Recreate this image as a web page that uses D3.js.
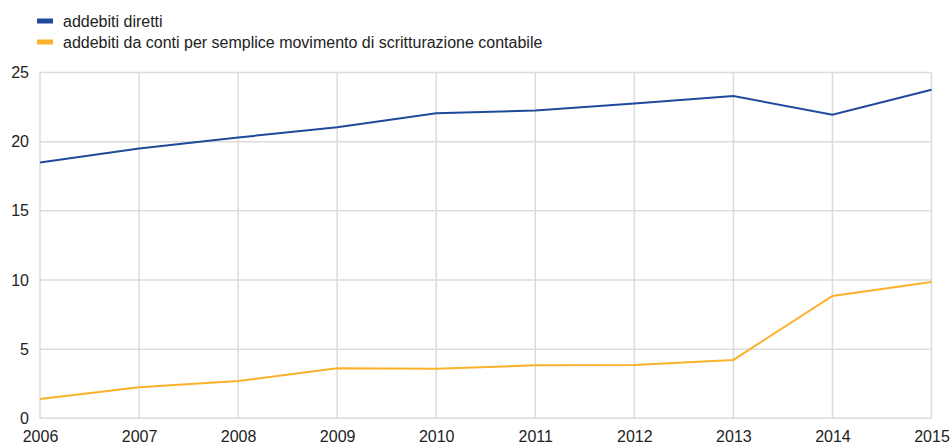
<!DOCTYPE html>
<html><head><meta charset="utf-8">
<script src="https://cdn.jsdelivr.net/npm/d3@7"></script>
<style>body{margin:0;background:#fff;font-family:"Liberation Sans",Arial,sans-serif;}</style>
</head><body><svg id="c" width="951" height="443"></svg>
<script>
const years = [2006,2007,2008,2009,2010,2011,2012,2013,2014,2015];
const direct = [18.5,19.5,20.3,21.05,22.05,22.25,22.75,23.3,21.95,23.75];
const bookEntry = [1.4,2.25,2.7,3.62,3.58,3.83,3.85,4.22,8.85,9.85];
const seriesNames = ["addebiti diretti","addebiti da conti per semplice movimento di scritturazione contabile"];
const colors = ["#1f4a9c","#fcb12a"];
const yTicks = [0,5,10,15,20,25];

const FONT = "Liberation Sans, Arial, sans-serif";
const svg = d3.select("#c");
const L=40, R=931.5, T=72.5, B=418.3;
const x = d3.scaleLinear().domain([2006,2015]).range([L,R]);
const y = d3.scaleLinear().domain([0,25]).range([B,T]);

const grid = svg.append("g");
grid.selectAll(".h").data(yTicks).enter().append("line")
  .attr("x1",L).attr("x2",R).attr("y1",d=>y(d)).attr("y2",d=>y(d))
  .attr("stroke","#dcdcdc").attr("stroke-width",1.5);
grid.selectAll(".v").data(years).enter().append("line")
  .attr("x1",d=>x(d)).attr("x2",d=>x(d)).attr("y1",T).attr("y2",B)
  .attr("stroke","#dcdcdc").attr("stroke-width",1.5);

const yAxis = svg.append("g").attr("transform",`translate(${L},0)`)
  .call(d3.axisLeft(y).tickValues(yTicks).tickSize(0).tickPadding(11));
yAxis.select(".domain").remove();
yAxis.selectAll("text").attr("font-size",16).attr("font-family",FONT).attr("fill","#222");

const xAxis = svg.append("g").attr("transform",`translate(0,${B})`)
  .call(d3.axisBottom(x).tickValues(years).tickFormat(d3.format("d")).tickSize(0).tickPadding(12));
xAxis.select(".domain").remove();
xAxis.selectAll("text").attr("font-size",16).attr("font-family",FONT).attr("fill","#222");

const line = d3.line().x((d,i)=>x(years[i])).y(d=>y(d));
[direct,bookEntry].forEach((s,k)=>{
  svg.append("path").datum(s).attr("d",line).attr("fill","none")
    .attr("stroke",colors[k]).attr("stroke-width",2);
});

const leg = svg.append("g");
seriesNames.forEach((n,k)=>{
  const yy = 21 + k*21;
  leg.append("rect").attr("x",37).attr("y",yy-2.5).attr("width",16).attr("height",5).attr("fill",colors[k]);
  leg.append("text").attr("x",63).attr("y",yy+5.5).attr("font-size",16)
    .attr("font-family",FONT).attr("fill","#222").text(n);
});
</script></body></html>
